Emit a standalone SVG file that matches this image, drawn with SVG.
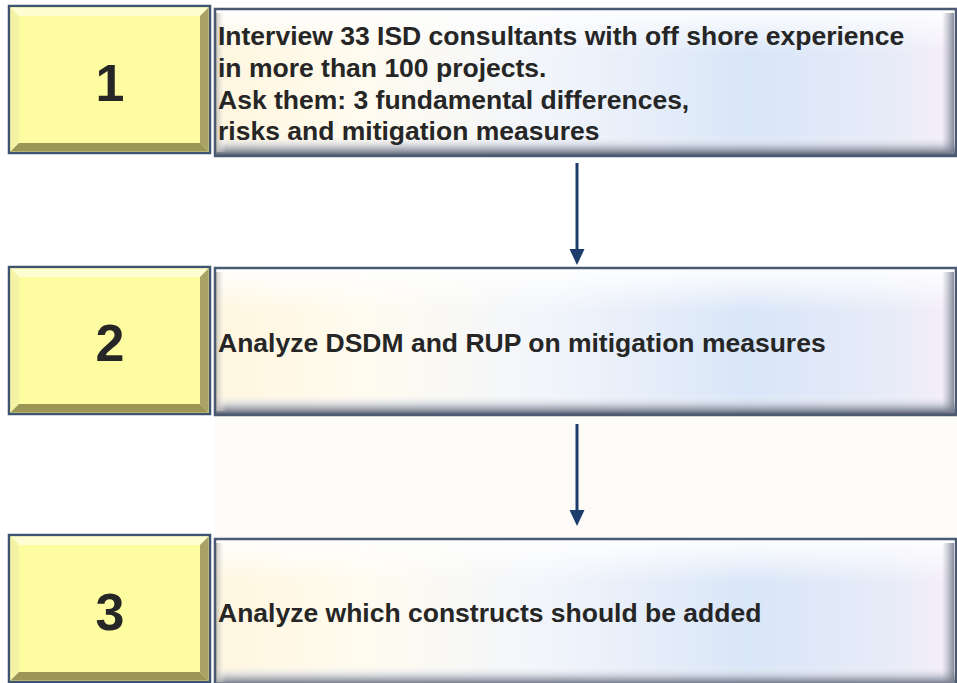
<svg xmlns="http://www.w3.org/2000/svg" width="957" height="683" viewBox="0 0 957 683">
<defs>
<linearGradient id="txH" x1="0" y1="0" x2="1" y2="0">
<stop offset="0" stop-color="#fff6de"/>
<stop offset="0.2" stop-color="#fffbef"/>
<stop offset="0.45" stop-color="#f2f5fb"/>
<stop offset="0.72" stop-color="#d9e6f8"/>
<stop offset="0.9" stop-color="#e6ebf8"/>
<stop offset="1" stop-color="#f6eefa"/>
</linearGradient>
<linearGradient id="txV" x1="0" y1="0" x2="0" y2="1">
<stop offset="0" stop-color="#ffffff" stop-opacity="0.95"/>
<stop offset="0.12" stop-color="#ffffff" stop-opacity="0.6"/>
<stop offset="0.3" stop-color="#ffffff" stop-opacity="0"/>
<stop offset="0.86" stop-color="#ffffff" stop-opacity="0"/>
<stop offset="0.92" stop-color="#c8ccd8" stop-opacity="0.6"/>
<stop offset="1" stop-color="#4a5264" stop-opacity="1"/>
</linearGradient>
<linearGradient id="txR" x1="0" y1="0" x2="1" y2="0">
<stop offset="0" stop-color="#8890a0" stop-opacity="0"/>
<stop offset="1" stop-color="#6c7484" stop-opacity="0.8"/>
</linearGradient>
<linearGradient id="txL" x1="0" y1="0" x2="1" y2="0">
<stop offset="0" stop-color="#b8b4a8" stop-opacity="0.8"/>
<stop offset="1" stop-color="#ffffff" stop-opacity="0"/>
</linearGradient>
<g id="ybox">
<rect x="0" y="0" width="201" height="147" fill="#fdfca0" stroke="#3e5470" stroke-width="2.5"/>
<polygon points="1.5,1.5 199.5,1.5 191,10 10,10" fill="#fefed2"/>
<polygon points="1.5,1.5 10,10 10,137 1.5,145.5" fill="#f4f2a4"/>
<polygon points="199.5,1.5 199.5,145.5 191,137 191,10" fill="#a8a266"/>
<polygon points="1.5,145.5 199.5,145.5 191,137 10,137" fill="#9c9656"/>
</g>
<g id="tbox">
<rect x="0" y="0" width="741" height="147" fill="url(#txH)"/>
<rect x="0" y="0" width="741" height="147" fill="url(#txV)"/>
<rect x="727" y="4" width="12" height="139" fill="url(#txR)"/>
<rect x="1" y="4" width="10" height="139" fill="url(#txL)"/>
<rect x="0" y="0" width="741" height="147" fill="none" stroke="#4a5a72" stroke-width="2.5"/>
</g>
</defs>
<style>
.num{font-family:"Liberation Sans",Arial,sans-serif;font-weight:bold;font-size:52px;fill:#262626;text-anchor:middle}
.lbl{font-family:"Liberation Sans",Arial,sans-serif;font-weight:bold;font-size:26.5px;fill:#262626}
.conn{stroke:#1c3c6c;stroke-width:3;fill:none}
.head{fill:#1c3c6c}
</style>
<rect x="0" y="0" width="957" height="683" fill="#ffffff"/>
<rect x="215" y="416" width="742" height="124" fill="#fcfbf8"/>
<g id="node1">
<use href="#ybox" x="9" y="6"/>
<text class="num" x="110" y="101">1</text>
</g>
<g id="node1text">
<use href="#tbox" x="215" y="9"/>
<text class="lbl" x="218" y="45">Interview 33 ISD consultants with off shore experience</text>
<text class="lbl" x="218" y="77">in more than 100 projects.</text>
<text class="lbl" x="218" y="109">Ask them: 3 fundamental differences,</text>
<text class="lbl" x="218" y="140">risks and mitigation measures</text>
</g>
<g id="node2">
<use href="#ybox" x="9" y="267"/>
<text class="num" x="110" y="361">2</text>
</g>
<g id="node2text">
<use href="#tbox" x="215" y="268"/>
<text class="lbl" x="218" y="352">Analyze DSDM and RUP on mitigation measures</text>
</g>
<g id="node3">
<use href="#ybox" x="9" y="535"/>
<text class="num" x="110" y="630">3</text>
</g>
<g id="node3text">
<use href="#tbox" x="215" y="539"/>
<text class="lbl" x="218" y="622">Analyze which constructs should be added</text>
</g>
<g id="connectors">
<line class="conn" x1="577" y1="163" x2="577" y2="251"/>
<polygon class="head" points="569.5,249 584.5,249 577,265"/>
<line class="conn" x1="577" y1="424" x2="577" y2="512"/>
<polygon class="head" points="569.5,510 584.5,510 577,526"/>
</g>
</svg>
